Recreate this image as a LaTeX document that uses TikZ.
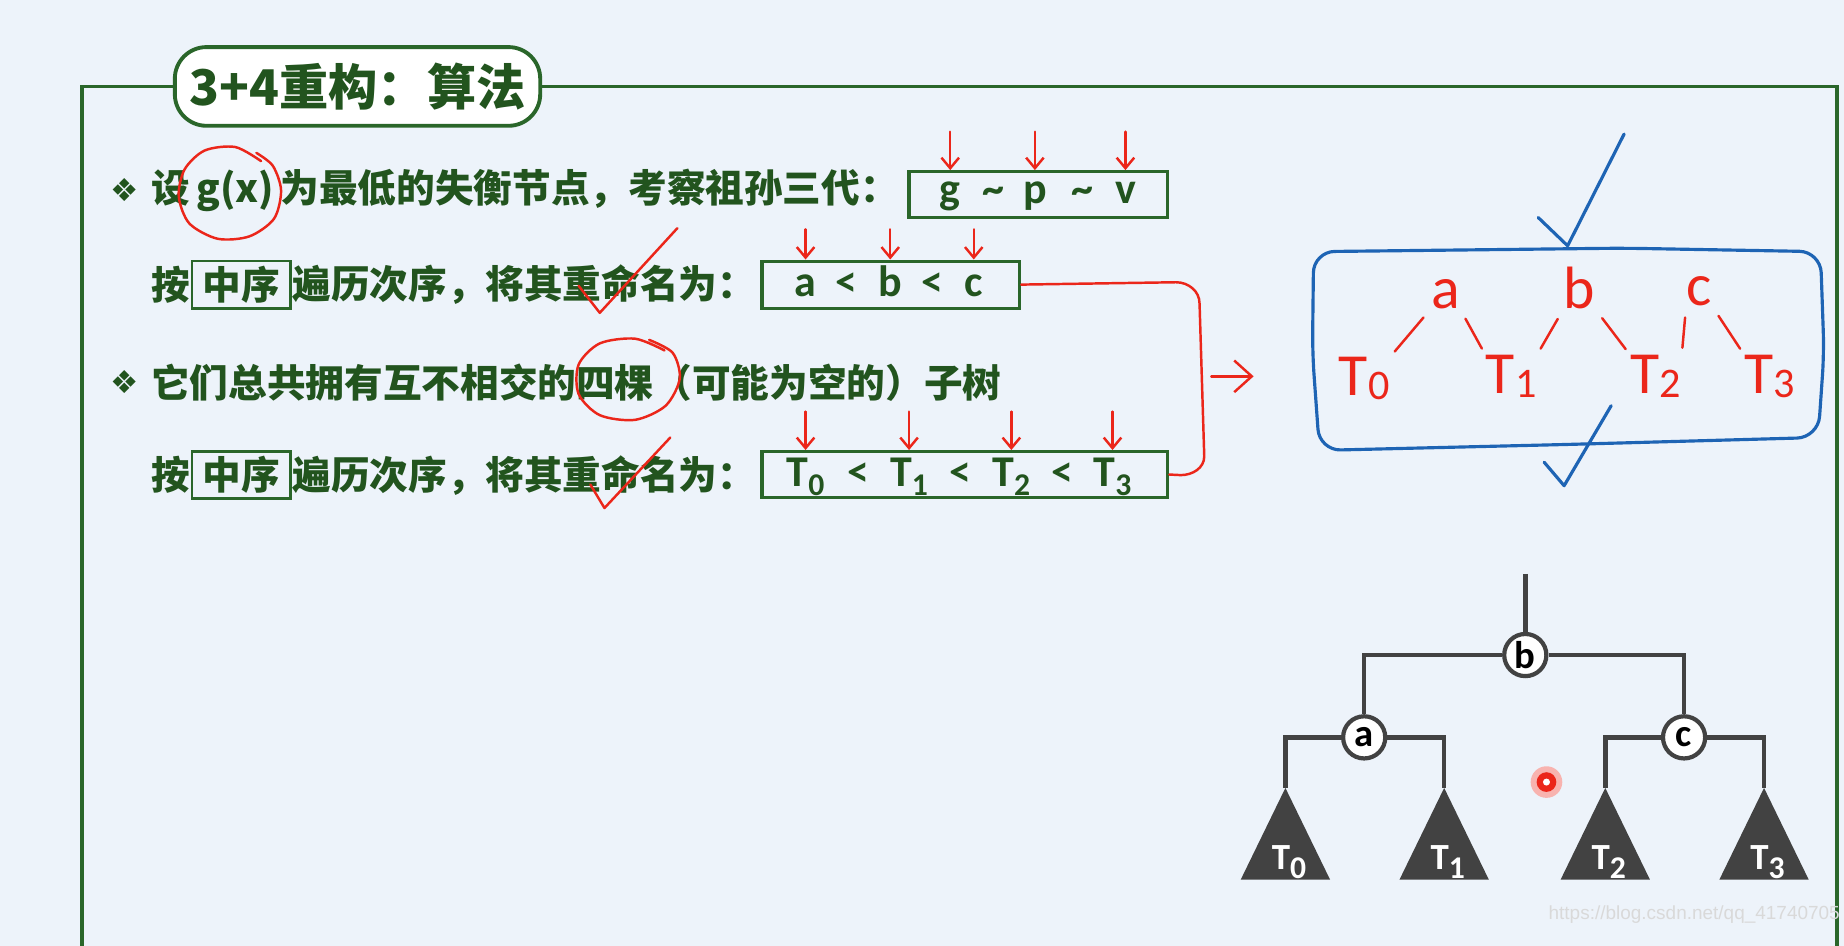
\documentclass[tikz,border=0pt]{standalone}
\usepackage{fontspec}
\setmainfont{Carlito}
\newfontfamily\cjk{Noto Sans CJK SC}
\newfontfamily\symfont{DejaVu Sans}
\newfontfamily\wmfont{Liberation Sans}
\usetikzlibrary{positioning,fit,arrows.meta}

\definecolor{pagebg}{RGB}{237,243,250}
\definecolor{grn}{RGB}{42,102,42}
\definecolor{txtgrn}{RGB}{34,84,30}
\definecolor{pen}{RGB}{235,38,26}
\definecolor{ink}{RGB}{30,100,180}
\definecolor{treegray}{RGB}{66,66,66}

\newcommand\lowsub[1]{\raisebox{-2.5pt}{\fontsize{9}{9}\selectfont#1}}

\tikzset{
  outerframe/.style={draw=grn,line width=1.1pt},
  txt/.style={anchor=west,inner sep=0pt,text=txtgrn,font=\cjk\bfseries\fontsize{11}{13}\selectfont},
  keybox/.style={draw=grn,line width=0.8pt,text=txtgrn,font=\cjk\bfseries\fontsize{11}{13}\selectfont,inner xsep=3pt,inner ysep=0pt,minimum height=13.4pt},
  namebox/.style={draw=grn,line width=0.9pt,inner sep=0pt},
  sym/.style={anchor=base,inner sep=0pt,text=txtgrn,font=\bfseries\fontsize{12.5}{14}\selectfont},
  bullet/.style={inner sep=0pt,text=txtgrn,font=\symfont\fontsize{9}{9}\selectfont},
  penline/.style={draw=pen,line width=0.7pt,line cap=round,line join=round},
  penarrow/.style={penline,-{Straight Barb[length=3pt,width=5pt]}},
  pentext/.style={text=pen,inner sep=0pt,font=\fontsize{17}{17}\selectfont},
  inkline/.style={draw=ink,line width=0.9pt,line cap=round,line join=round},
  treeline/.style={draw=treegray,line width=1.3pt},
  treenode/.style={circle,draw=treegray,line width=1.2pt,fill=white,inner sep=0pt,minimum size=12pt,font=\bfseries\fontsize{11}{11}\selectfont},
}

\begin{document}
\begin{tikzpicture}[x=0.01176cm,y=-0.01176cm]
\fill[pagebg] (0,0) rectangle (1568,804);
\useasboundingbox (0,0) rectangle (1568,804);

% title and frame
\node[outerframe,fill=white,rounded corners=9pt,minimum width=104pt,minimum height=22.4pt,text=txtgrn,font=\cjk\bfseries\fontsize{14}{16}\selectfont] (title) at (304,73.5) {3+4重构：算法};
\draw[outerframe] (title.west) -| (70,810);
\draw[outerframe] (title.east) -| (1562,810);

% line 1
\node[bullet] (bul1) at (106,162) {❖};
\node[txt] (l1) at (128,162) {设\,g(x)\,为最低的失衡节点，考察祖孙三代：};
\node[namebox,fit={(773,146) (993,185)}] (gpv) {};
\foreach \n/\s/\x in {g/g/808,w1/\textasciitilde/845,p/p/880,w2/\textasciitilde/920,v/v/957}
  \node[sym] (\n) at (\x,173) {\s};
\foreach \n in {g,p,v}
  \draw[penarrow] (\n |- 0,112) -- (\n |- gpv.north);

% line 2
\node[txt] (an2) at (128,242) {按};
\node[keybox,right=0pt of an2] (mid2) {中序};
\node[txt,right=0pt of mid2] (l2) {遍历次序，将其重命名为：};
\node[namebox,fit={(648,222) (867,262)}] (abc) {};
\foreach \n/\s/\x in {a/a/685,lt1/</720,b/b/757,lt2/</793,c/c/828}
  \node[sym] (\n) at (\x,252) {\s};
\foreach \n in {a,b,c}
  \draw[penarrow] (\n |- 0,195) -- (\n |- abc.north);

% line 3
\node[bullet] (bul3) at (106,325) {❖};
\node[txt] (l3) at (128,325) {它们总共拥有互不相交的四棵（可能为空的）子树};

% line 4
\node[txt] (an4) at (128,404) {按};
\node[keybox,right=0pt of an4] (mid4) {中序};
\node[txt,right=0pt of mid4] (l4) {遍历次序，将其重命名为：};
\node[namebox,fit={(648,384) (993,423)}] (tts) {};
\foreach \n/\s/\x in {T0/{T\lowsub{0}}/685,lt3/</730,T1/{T\lowsub{1}}/773,lt4/</817,T2/{T\lowsub{2}}/860,lt5/</903,T3/{T\lowsub{3}}/946}
  \node[sym] (\n) at (\x,414) {\s};
\foreach \n in {T0,T1,T2,T3}
  \draw[penarrow] (\n |- 0,350) -- (\n |- tts.north);

% red marks
\draw[penline] plot[smooth] coordinates {(222,137) (200,125) (174,128) (157,144) (152,167) (161,190) (185,203) (212,201) (233,186) (239,162) (232,141) (218,130)};
\draw[penline] plot[smooth] coordinates {(565,298) (540,288) (510,292) (492,310) (492,335) (510,353) (540,357) (566,345) (578,322) (572,300) (552,289)};
\draw[penline] (492,243) -- (510,266) -- (576,194);
\draw[penline] (502,412) -- (514,432) -- (570,372);
\draw[penline] (abc.east) -- (1000,240) to[out=0,in=90] (1020,258) -- (1024,388) to[out=-90,in=0] (1004,404) -- (tts.east);
\coordinate (arr0) at (1030,320);
\coordinate (arr1) at (1066,320);
\draw[penline,-{Straight Barb[length=5pt,width=9pt]}] (arr0) -- (arr1);

% hand drawn sketch
\draw[inkline,rounded corners=6pt] (1117,214) -- (1380,211) -- (1548,214) -- (1551,300) -- (1546,372) -- (1330,378) -- (1122,383) -- (1116,300) -- cycle;
\draw[inkline] (1308,185) -- (1333,209) -- (1381,114);
\draw[inkline] (1313,393) -- (1330,413) -- (1370,345);
\node[pentext] (h0) at (1160,322) {T\raisebox{-1pt}{\fontsize{12}{12}\selectfont 0}};
\node[pentext] (h1) at (1285,320) {T\raisebox{-1pt}{\fontsize{12}{12}\selectfont 1}};
\node[pentext] (h2) at (1408,320) {T\raisebox{-1pt}{\fontsize{12}{12}\selectfont 2}};
\node[pentext] (h3) at (1505,320) {T\raisebox{-1pt}{\fontsize{12}{12}\selectfont 3}};
\node[pentext] (ha) at (1229,250) {a};
\node[pentext] (hb) at (1343,245) {b};
\node[pentext] (hc) at (1445,248) {c};
\draw[penline,shorten <=2pt,shorten >=3pt] (h0.north east) -- (ha.south west);
\draw[penline,shorten <=3pt,shorten >=2pt] (ha.south east) -- (h1.north west);
\draw[penline,shorten <=2pt,shorten >=3pt] (h1.north east) -- (hb.south west);
\draw[penline,shorten <=3pt,shorten >=2pt] (hb.south east) -- (h2.north west);
\draw[penline,shorten <=2pt,shorten >=3pt] (h2.north east) -- (hc.south west);
\draw[penline,shorten <=3pt,shorten >=2pt] (hc.south east) -- (h3.north west);

% 3+4 tree
\coordinate (stem) at (1297,488);
\node[treenode] (nb) at (1297,557) {b};
\node[treenode] (na) at (1160,627) {a};
\node[treenode] (nc) at (1432,627) {c};
\foreach \n/\x in {0/1093,1/1228,2/1365,3/1500} {
  \coordinate (top\n) at (\x,670);
  \fill[treegray] (top\n) -- ++(-38,78) -- ++(76,0) -- cycle;
  \node[text=white,font=\bfseries\fontsize{10.5}{11}\selectfont] (st\n) at (\x+3,733) {T\lowsub{\n}};
}
\draw[treeline] (stem) -- (nb);
\draw[treeline] (nb.west) -| (na);
\draw[treeline] (nb.east) -| (nc);
\draw[treeline] (na.west) -| (top0);
\draw[treeline] (na.east) -| (top1);
\draw[treeline] (nc.west) -| (top2);
\draw[treeline] (nc.east) -| (top3);

% pointer and watermark
\fill[pen!35] (1315,665) circle (4.5pt);
\fill[pen] (1315,665) circle (2.8pt);
\fill[white] (1315,665) circle (1pt);
\node[anchor=east,inner sep=0pt,text=white!70!gray,font=\wmfont\fontsize{5.4}{6}\selectfont] (wm) at (1565,778) {https://blog.csdn.net/qq\_41740705};
\end{tikzpicture}
\end{document}
